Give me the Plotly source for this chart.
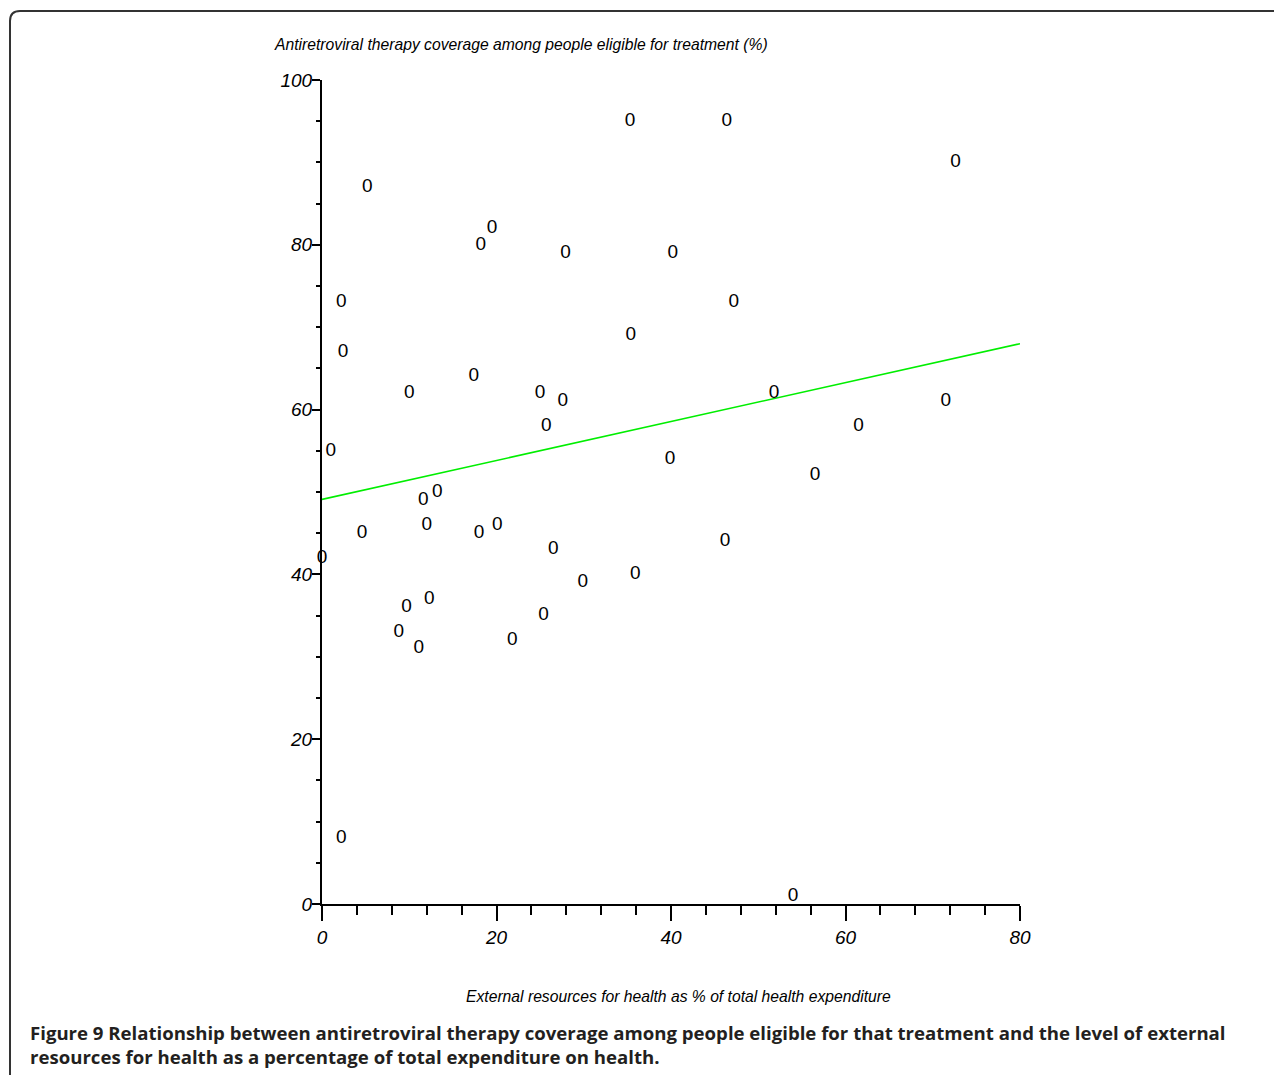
import plotly.graph_objects as go

# Data
ext_resources = [0.0, 1.0, 2.2, 2.4, 2.2, 4.6, 5.2, 8.8, 9.7, 10.0, 11.1, 11.6, 12.0, 12.3,
                 13.2, 17.4, 18.0, 18.2, 19.5, 20.1, 21.8, 25.0, 25.4, 25.7, 26.5, 27.6,
                 27.9, 29.9, 35.3, 35.4, 35.9, 39.9, 40.2, 46.2, 46.4, 47.2, 51.8, 54.0,
                 56.5, 61.5, 71.5, 72.6]
art_coverage = [42, 55, 73, 67, 8, 45, 87, 33, 36, 62, 31, 49, 46, 37,
                50, 64, 45, 80, 82, 46, 32, 62, 35, 58, 43, 61,
                79, 39, 95, 69, 40, 54, 79, 44, 95, 73, 62, 1,
                52, 58, 61, 90]
trend_x = [0, 80]
trend_y = [49.1, 68.0]

x_ticks = [0, 20, 40, 60, 80]
y_ticks = [0, 20, 40, 60, 80, 100]

y_title = "Antiretroviral therapy coverage among people eligible for treatment (%)"
x_title = "External resources for health as % of total health expenditure"
caption = ("<b>Figure 9 Relationship between antiretroviral therapy coverage among people eligible for that treatment and the level of external<br>"
           "resources for health as a percentage of total expenditure on health.</b>")

SANS = "Liberation Sans, Arial, sans-serif"

# Page body has an 8px margin; positions below are in screenshot pixels
OFF = 8
W, H = 1282 - OFF, 1075 - OFF
L, R, T, B = 322, 1020, 80, 904          # plot area in screenshot pixels
PW, PH = R - L, B - T

def px(xp):
    return (xp - L) / PW

def py(yp):
    return (B - yp) / PH

fig = go.Figure()

fig.add_trace(go.Scatter(
    x=trend_x, y=trend_y, mode="lines",
    line=dict(color="#00ee00", width=1.6),
    hoverinfo="skip", showlegend=False,
))

fig.add_trace(go.Scatter(
    x=ext_resources, y=art_coverage, mode="text",
    text=["0"] * len(ext_resources),
    textposition="middle center",
    textfont=dict(family=SANS, size=19, color="black"),
    cliponaxis=False, showlegend=False,
))

axis_common = dict(
    showline=True, linecolor="black", linewidth=2,
    showgrid=False, zeroline=False,
    ticks="outside", tickcolor="black", tickwidth=2,
    tickfont=dict(family=SANS, size=19, color="black", style="italic"),
)

fig.update_xaxes(
    range=[0, 80], tickvals=x_ticks, ticklen=15,
    minor=dict(dtick=4, tick0=0, ticks="outside", ticklen=9, tickwidth=2, tickcolor="black"),
    **axis_common,
)
fig.update_yaxes(
    range=[0, 100], tickvals=y_ticks, ticklen=8, ticklabelstandoff=-4,
    minor=dict(dtick=5, tick0=0, ticks="outside", ticklen=4, tickwidth=2, tickcolor="black"),
    **axis_common,
)

annotations = [
    dict(text=y_title, xref="paper", yref="paper", x=px(272), y=py(45),
         xanchor="left", yanchor="middle", showarrow=False,
         font=dict(family=SANS, size=15.7, color="black", style="italic")),
    dict(text=x_title, xref="paper", yref="paper", x=px(678), y=py(996),
         xanchor="center", yanchor="middle", showarrow=False,
         font=dict(family=SANS, size=15.7, color="black", style="italic")),
    dict(text=caption, xref="paper", yref="paper", x=px(28), y=py(1044),
         xanchor="left", yanchor="middle", align="left", showarrow=False,
         font=dict(family="Open Sans, Noto Sans, sans-serif", size=18.6, color="#231f20")),
]

r = 10
x0, y0 = 10, 11
frame_path = (f"M {px(x0)},{py(1075 + 5)} L {px(x0)},{py(y0 + r)} "
              f"Q {px(x0)},{py(y0)} {px(x0 + r)},{py(y0)} L {px(1282 + 5)},{py(y0)}")

fig.update_layout(
    width=W, height=H,
    margin=dict(l=L - OFF, r=(W + OFF) - R, t=T - OFF, b=(H + OFF) - B),
    paper_bgcolor="white", plot_bgcolor="white",
    annotations=annotations,
    shapes=[dict(type="path", path=frame_path, xref="paper", yref="paper",
                 line=dict(color="#333333", width=2))],
    showlegend=False,
)

fig.write_html("out.html")
